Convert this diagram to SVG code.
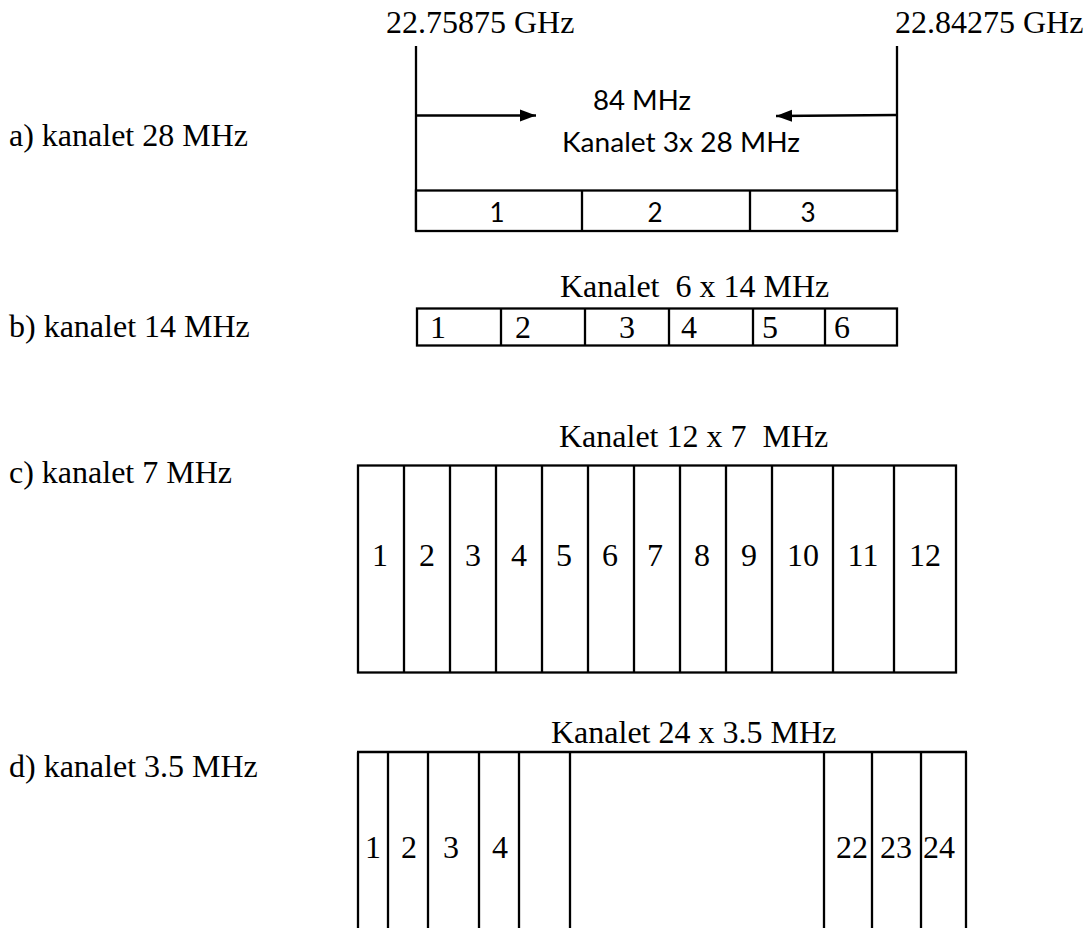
<svg xmlns="http://www.w3.org/2000/svg" width="1085" height="928" viewBox="0 0 1085 928">
  <style>
    .serif { font-family: "Liberation Serif", "Times New Roman", serif; font-size: 32px; fill: #000; white-space: pre; }
    .sans { font-family: Lato, "Liberation Sans", Arial, sans-serif; font-size: 26px; fill: #000; }
    .ln { stroke: #000; stroke-width: 2.3; fill: none; }
    .box { stroke: #000; stroke-width: 2.3; fill: #fff; }
  </style>
  <defs>
    <marker id="ah" markerUnits="userSpaceOnUse" markerWidth="17" markerHeight="14" refX="16" refY="7" orient="auto">
      <path d="M0,1 L16,7 L0,13 Z" fill="#000"/>
    </marker>
  </defs>
  <rect width="1085" height="928" fill="#fff"/>

  <g id="labels">
    <text class="serif" x="9" y="146">a) kanalet 28 MHz</text>
    <text class="serif" x="9" y="337">b) kanalet 14 MHz</text>
    <text class="serif" x="9" y="483">c) kanalet 7 MHz</text>
    <text class="serif" x="9" y="777">d) kanalet 3.5 MHz</text>
  </g>

  <g id="band-a">
    <text class="serif" x="386" y="33">22.75875 GHz</text>
    <text class="serif" x="895" y="33">22.84275 GHz</text>
    <line class="ln" x1="416" y1="46" x2="416" y2="231"/>
    <line class="ln" x1="897" y1="46" x2="897" y2="231"/>
    <text class="sans" x="642" y="110" text-anchor="middle" textLength="98" lengthAdjust="spacingAndGlyphs">84 MHz</text>
    <text class="sans" x="681" y="152" text-anchor="middle" textLength="238" lengthAdjust="spacingAndGlyphs">Kanalet 3x 28 MHz</text>
    <rect class="box" x="416" y="190.5" width="481" height="40.5"/>
    <line class="ln" x1="582" y1="190.5" x2="582" y2="231"/>
    <line class="ln" x1="750" y1="190.5" x2="750" y2="231"/>
    <text class="sans" x="497" y="222" text-anchor="middle">1</text>
    <text class="sans" x="655" y="222" text-anchor="middle">2</text>
    <text class="sans" x="808" y="222" text-anchor="middle">3</text>
  </g>

  <g id="connectors">
    <line class="ln" x1="416" y1="115.5" x2="536" y2="115.5" marker-end="url(#ah)"/>
    <line class="ln" x1="897" y1="115" x2="776" y2="116" marker-end="url(#ah)"/>
  </g>

  <g id="band-b">
    <text class="serif" x="560" y="297">Kanalet  6 x 14 MHz</text>
    <rect class="box" x="417" y="308.5" width="480" height="37"/>
    <line class="ln" x1="501" y1="308.5" x2="501" y2="345.5"/>
    <line class="ln" x1="585" y1="308.5" x2="585" y2="345.5"/>
    <line class="ln" x1="669" y1="308.5" x2="669" y2="345.5"/>
    <line class="ln" x1="753" y1="308.5" x2="753" y2="345.5"/>
    <line class="ln" x1="825" y1="308.5" x2="825" y2="345.5"/>
    <text class="serif" x="430" y="338">1</text>
    <text class="serif" x="515" y="338">2</text>
    <text class="serif" x="619" y="338">3</text>
    <text class="serif" x="681" y="338">4</text>
    <text class="serif" x="762" y="338">5</text>
    <text class="serif" x="834" y="338">6</text>
  </g>

  <g id="band-c">
    <text class="serif" x="559" y="447">Kanalet 12 x 7  MHz</text>
    <rect class="box" x="358" y="465.5" width="598" height="207"/>
    <line class="ln" x1="404" y1="465.5" x2="404" y2="672.5"/>
    <line class="ln" x1="450" y1="465.5" x2="450" y2="672.5"/>
    <line class="ln" x1="496" y1="465.5" x2="496" y2="672.5"/>
    <line class="ln" x1="542" y1="465.5" x2="542" y2="672.5"/>
    <line class="ln" x1="588" y1="465.5" x2="588" y2="672.5"/>
    <line class="ln" x1="634" y1="465.5" x2="634" y2="672.5"/>
    <line class="ln" x1="680" y1="465.5" x2="680" y2="672.5"/>
    <line class="ln" x1="726" y1="465.5" x2="726" y2="672.5"/>
    <line class="ln" x1="772" y1="465.5" x2="772" y2="672.5"/>
    <line class="ln" x1="833" y1="465.5" x2="833" y2="672.5"/>
    <line class="ln" x1="894" y1="465.5" x2="894" y2="672.5"/>
    <g class="serif" text-anchor="middle">
      <text x="380" y="566">1</text>
      <text x="427" y="566">2</text>
      <text x="473" y="566">3</text>
      <text x="519" y="566">4</text>
      <text x="564" y="566">5</text>
      <text x="610" y="566">6</text>
      <text x="655" y="566">7</text>
      <text x="702" y="566">8</text>
      <text x="749" y="566">9</text>
      <text x="803" y="566">10</text>
      <text x="863" y="566">11</text>
      <text x="925" y="566">12</text>
    </g>
  </g>

  <g id="band-d">
    <text class="serif" x="551" y="743">Kanalet 24 x 3.5 MHz</text>
    <line class="ln" x1="357" y1="752" x2="967" y2="752"/>
    <line class="ln" x1="358" y1="752" x2="358" y2="928"/>
    <line class="ln" x1="388" y1="752" x2="388" y2="928"/>
    <line class="ln" x1="428" y1="752" x2="428" y2="928"/>
    <line class="ln" x1="479" y1="752" x2="479" y2="928"/>
    <line class="ln" x1="519" y1="752" x2="519" y2="928"/>
    <line class="ln" x1="570" y1="752" x2="570" y2="928"/>
    <line class="ln" x1="824" y1="752" x2="824" y2="928"/>
    <line class="ln" x1="872" y1="752" x2="872" y2="928"/>
    <line class="ln" x1="921" y1="752" x2="921" y2="928"/>
    <line class="ln" x1="966" y1="752" x2="966" y2="928"/>
    <g class="serif" text-anchor="middle">
      <text x="373" y="858">1</text>
      <text x="409" y="858">2</text>
      <text x="451" y="858">3</text>
      <text x="500" y="858">4</text>
      <text x="852" y="858">22</text>
      <text x="896" y="858">23</text>
      <text x="939" y="858">24</text>
    </g>
  </g>
</svg>
